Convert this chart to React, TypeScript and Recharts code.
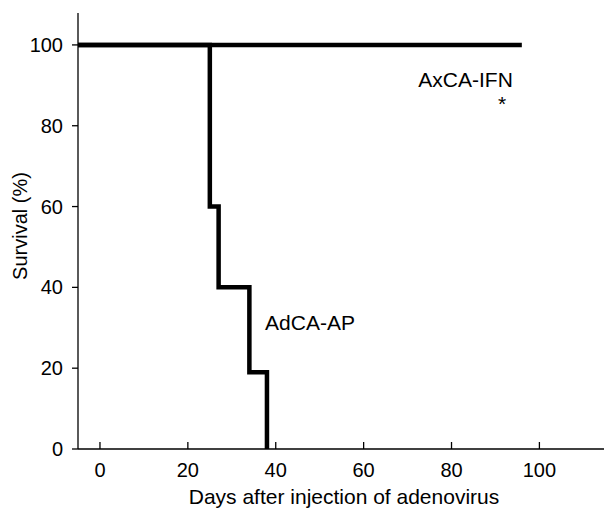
import React from 'react';
import { LineChart, Line, XAxis, YAxis, ReferenceDot, Label } from 'recharts';

// Days / survival (%)
const ifnDays = [-5, 96];
const ifnSurvival = [100, 100];
const apDays = [-5, 25, 27, 34, 38];
const apSurvival = [100, 60, 40, 19, 0];

const xTicks = [0, 20, 40, 60, 80, 100];
const yTicks = [0, 20, 40, 60, 80, 100];

const ifnData = ifnDays.map((d, i) => ({ day: d, survival: ifnSurvival[i] }));
const apData = apDays.map((d, i) => ({ day: d, survival: apSurvival[i] }));

const FONT = '"Liberation Sans", Arial, Helvetica, sans-serif';

// x ticks point inwards (upwards) in the original
const XTick = (props: any) => {
  const { x, y, payload } = props;
  return (
    <g>
      <line x1={x} x2={x} y1={y} y2={y - 7} stroke="#000" strokeWidth={1.3} />
      <text x={x} y={y + 28} textAnchor="middle" fontSize={20} fill="#000">
        {payload.value}
      </text>
    </g>
  );
};

const App: React.FC = () => {
  return (
    <div style={{ position: 'absolute', left: 0, top: 0, width: 604, height: 508, background: '#fff', fontFamily: FONT }}>
      <LineChart width={604} height={508} margin={{ top: 13, right: 0, bottom: 0, left: 0 }}>
        <XAxis
          type="number"
          dataKey="day"
          domain={[-5, 114.7]}
          ticks={xTicks}
          allowDataOverflow
          height={59}
          tickSize={0}
          tickMargin={0}
          tickLine={false}
          tick={XTick}
          axisLine={{ stroke: '#000', strokeWidth: 1.3 }}
        >
          <Label
            content={() => (
              <text x={344} y={504} textAnchor="middle" fontSize={21} fill="#000">
                Days after injection of adenovirus
              </text>
            )}
          />
        </XAxis>
        <YAxis
          type="number"
          dataKey="survival"
          domain={[0, 107.9]}
          ticks={yTicks}
          allowDataOverflow
          width={78}
          tickSize={6}
          tickMargin={9}
          tick={{ fontSize: 20, fill: '#000' }}
          tickLine={{ stroke: '#000', strokeWidth: 1.3 }}
          axisLine={{ stroke: '#000', strokeWidth: 1.3 }}
        >
          <Label
            content={() => (
              <text
                x={20}
                y={226}
                transform="rotate(-90 20 226)"
                textAnchor="middle"
                dominantBaseline="central"
                fontSize={20}
                fill="#000"
              >
                Survival (%)
              </text>
            )}
          />
        </YAxis>
        <Line
          data={ifnData}
          dataKey="survival"
          type="stepAfter"
          stroke="#000"
          strokeWidth={4.5}
          dot={false}
          activeDot={false}
          isAnimationActive={false}
        />
        <Line
          data={apData}
          dataKey="survival"
          type="stepAfter"
          stroke="#000"
          strokeWidth={4.5}
          dot={false}
          activeDot={false}
          isAnimationActive={false}
        />
        <ReferenceDot
          x={83.2}
          y={91.5}
          r={0}
          fill="none"
          stroke="none"
          ifOverflow="visible"
          label={{ value: 'AxCA-IFN', position: 'center', fontSize: 21, fill: '#000' }}
        />
        <ReferenceDot
          x={91.5}
          y={85.6}
          r={0}
          fill="none"
          stroke="none"
          ifOverflow="visible"
          label={{ value: '*', position: 'center', fontSize: 21, fill: '#000' }}
        />
        <ReferenceDot
          x={47.8}
          y={31.3}
          r={0}
          fill="none"
          stroke="none"
          ifOverflow="visible"
          label={{ value: 'AdCA-AP', position: 'center', fontSize: 21, fill: '#000' }}
        />
      </LineChart>
    </div>
  );
};

export default App;
